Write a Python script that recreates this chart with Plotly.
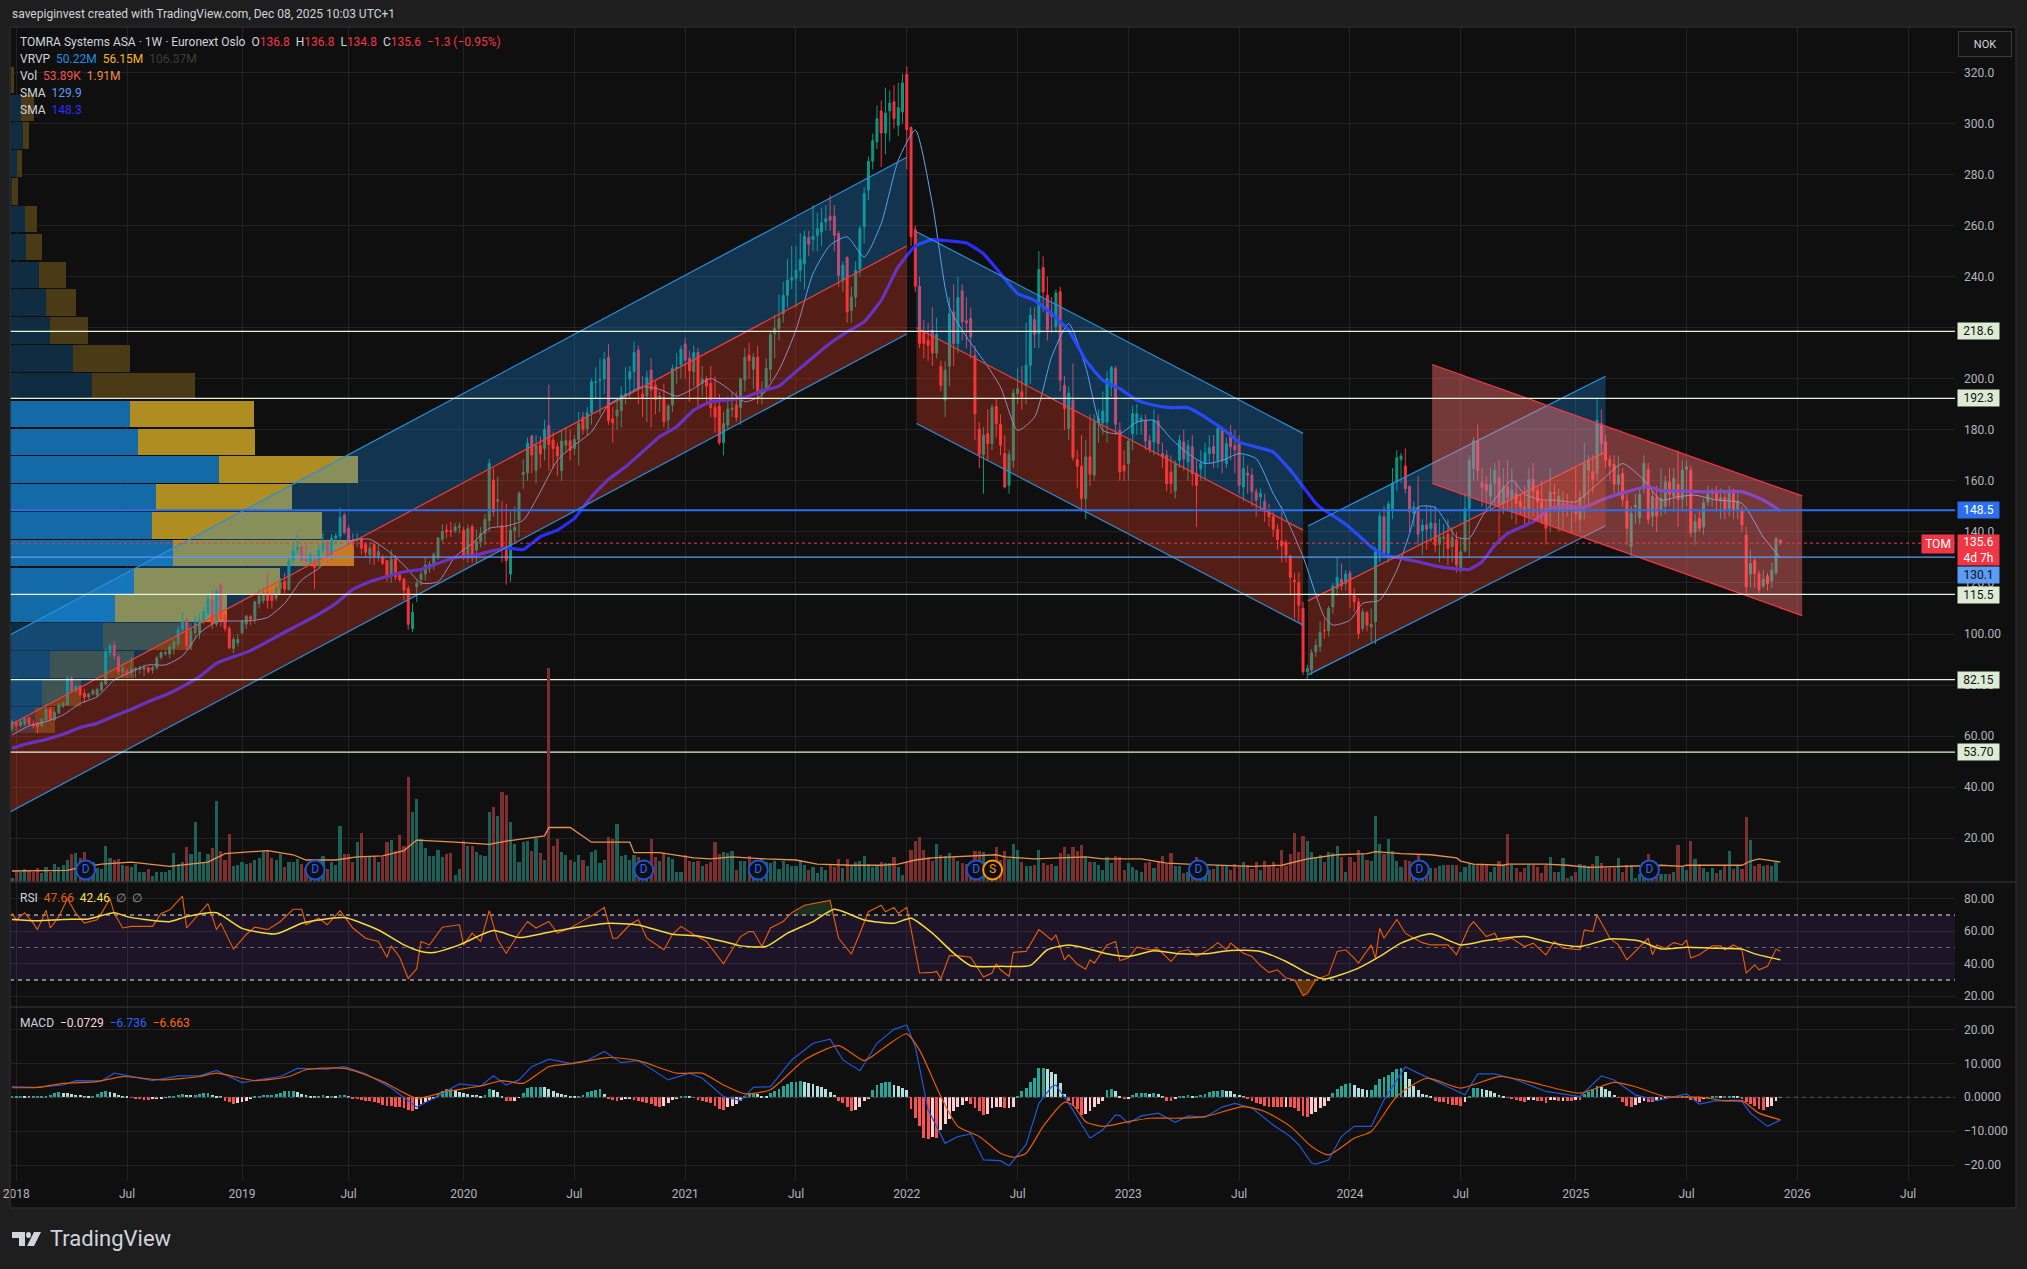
import pandas as pd
import plotly.graph_objects as go

# ---------- weekly candles ----------
opens = [
62.9,65.4,64.3,64.7,67.2,64.7,65,64,66.3,70.5,
66.6,69.2,71.8,72.2,82.6,77.8,79.6,76.8,75.4,76.5,
76.1,78,80.4,92.7,95.7,91.1,85.2,85.5,84.9,85.9,
86.2,86.2,86.9,85.9,86.8,90.9,92.4,92.2,94.4,96.1,
101.8,105.5,95.4,100.5,100.5,105.5,108.1,113.3,103.9,119.2,
107.4,102.2,94.4,96.6,100.5,103.9,106.8,105.8,112,113.1,
116.6,115.9,114,117.8,120.6,117.5,129,132.9,134.2,129.3,
128,129,127,132.9,135.8,130.9,137.5,138.4,146.6,141.4,
136.8,136.6,137.1,135.1,131,135.1,130.6,130,128.7,122.7,
129.3,123.1,121.5,117.8,102.2,118.5,121.4,123.5,125.7,126.6,
130,137.1,140.7,140.5,140.5,141.8,140.7,130.3,142,132.9,
136.2,139.4,144.4,160.3,152,142.4,134.2,123.5,140.5,144.6,
162.5,163.2,177.6,164,174,172.7,181.7,176,173.4,164,
174,175.7,172.7,176.2,184.9,180.5,186.7,198.6,199.2,199.9,
208.4,184.2,185.4,187.5,193.6,199.9,202.8,211.2,194,193.2,
203.4,197.5,192.7,192.7,183.8,189.7,204,205.4,213.6,208,
202.8,210.3,198.2,200,198.2,188.8,189.3,175,181.9,188,
189.7,188.8,199.5,209.3,203.7,208.4,194,196.2,203.7,
217.7,219.7,225.5,232.7,238.6,239.2,242.5,245.1,255.3,254.5,
256.2,257.5,261.4,263.7,263.7,256.9,238.6,247.5,226.8,232,
243,259.5,273.9,285.3,292.8,304.9,296.3,304.9,308.5,299.3,
304.5,319.3,
298.4,258.4,236.2,218.3,215.1,219,210.1,204.9,191.6,204.9,
226.2,213.8,234.4,222.7,223.6,209.2,180.2,170.4,178.5,174.6,
189.2,182.2,170.7,158.3,168,194.2,194.9,197.4,205.3,223.2,
217.7,243.6,232.7,225.8,220.3,234.1,197.4,180.5,191.6,168.3,
165.7,153,169.4,162.3,183,182.7,183.1,196.8,204,179.8,
166,166.8,178.5,183.1,183.7,183.7,175.8,175.2,183.5,170.7,
170,163.5,156,168,175.2,167.4,173.3,162.8,164.8,166.8,
170.7,173.5,168,180.5,166.8,178.8,173.8,174.6,157.6,163,
162.2,155.7,153.7,
152,148,146,141,136.5,135.9,130.6,121,120.2,110,
85.2,86,93,95,101.5,101.3,110.6,117.8,121.4,119.8,
124,115.2,112.6,102.2,108.3,102.8,104.8,130.9,145.9,131.6,
149.2,159.6,168.4,165.8,157.9,147.2,149.6,140.4,142.7,141.4,
143.3,135.2,137.5,139.1,134.2,137,124.8,132.6,149.2,164.9,
175.7,159.4,158.7,154,159,161.3,151.2,157.7,153.1,155,
151.8,149.6,149.2,160.6,156.1,151.8,149.2,148.8,155.5,148.5,
147.9,151.2,148.8,149.6,145,153.5,164.2,163.6,163,182.5,
175.3,168.4,166.4,158.7,162.9,152.1,134.4,149.8,145.5,157.7,
164.5,146,153.5,148.8,150.1,159.6,154,158.7,152.9,164.5,
164.2,140,145.3,142,151.8,155,156.1,152.5,153.5,149.2,
155.1,148.8,148.3,138.7,123.5,128.7,123.7,118.8,122.7,120.8,
124,136.8]

closes = [
65.7,64,65.7,67,64.7,64,63.7,66.6,70.5,66.6,
69.2,72.2,72.8,82.6,77.8,79.4,76.1,75.2,76.5,77.8,
78.3,80.9,93.1,95.4,91.4,85.2,86.8,84.3,86.2,86.5,
86.7,86.8,85.4,86.8,90.6,92.7,92.7,95,97,101.6,
104.8,95.4,101.2,104.2,105.2,108.7,113.8,103.9,116.8,106,
102.2,94.6,97.9,97.9,104.8,107,105.8,112.7,114.9,116.2,
113.1,113.1,117.9,120.1,117.5,128.7,132.6,134,129,128.6,
131,126.1,132.9,135.3,130.3,137.5,138.4,145.7,139.8,136.8,
136.2,137.1,133.6,132,133.6,130.6,132.3,127.7,122.7,129.3,
122.5,121.4,117.2,103.8,108.5,119.9,123.5,127,127.3,131.2,
137.7,140.2,140.1,140.1,142,142.3,130.6,141.3,130,136.2,
139.4,144.9,166.8,147.9,152.6,134.2,128.7,140.7,141.8,155.1,
163.3,174.7,170.1,174,170.5,180.2,174.3,172.7,169.7,175.6,
175.7,172,176.2,182.5,180.2,186.7,198.8,198.8,199.5,207.6,
183.6,182.8,187.7,193.6,194,202.8,210.3,196.2,192.3,200.5,
195.6,191.9,193.2,183.2,189.3,204,204.5,211.6,207.3,203.1,
210.3,197.3,199.8,197.1,188.8,185.1,175,182.5,188.1,188.4,
184.9,199.9,208.4,207.1,208.4,194,195.6,204,217.3,
219.7,223.6,232.7,238.6,239.6,242.5,246.7,255.8,252.7,255.8,
258.8,261,262.7,262.1,256.2,240.5,244.5,226.2,232,242.5,
258.8,272.5,285.2,293.2,301.9,296.3,304.1,308,301.9,306.2,
315.9,297.6,
255.6,236.2,213.8,213.8,213.1,210.1,217.4,197.4,203.3,225.5,
213.8,231.8,222.3,221.9,216.4,186.3,170.4,177.9,174.6,188.7,
182.4,174,157.6,170.4,194.4,196.1,192.9,205.3,224.9,217.4,
242.8,234,219.3,224.5,233.6,199.4,188.3,194.4,169.1,165.7,
153,169.4,162.6,183.1,184.4,187.4,200.1,204.4,182.2,163.5,
163.9,175.6,186.3,186.3,184.4,175.6,172.6,183.7,174.6,169.4,
158.9,158.9,166.8,175.9,168.7,173.9,162.8,158.3,166.8,171,
173,170.7,180.5,167.8,174.6,173.3,172.2,158.3,164.8,162.2,
155.7,152.4,155,
148,146,141,137,134.5,130.9,122.2,120.5,111.3,85.2,
86.5,92.6,95.6,100.6,101.3,110,118.8,122.2,118.8,123.5,
115.6,112.6,100.2,108.7,103.5,103.9,132.2,146.2,131.8,150.9,
159,169,169.7,157,147.9,149.8,139.1,142.7,141,143.6,
134.8,138.1,138,133.5,137.8,127,132.2,149.2,168.1,175.7,
164,157.4,156.1,158.7,164.2,151.2,157.7,153.5,156.4,151.2,
149.8,149.2,160.6,156,151.8,149.2,141.4,155.7,155.1,154,
151.2,148.8,150.5,147,153.5,166.8,167.9,160.6,183.8,174.6,
168.1,165.9,158.7,162.2,152.7,141.4,147.2,150.5,154.8,166.8,
145,154,146.2,153.1,159.6,154.8,160.9,152.7,164.2,165.5,
139.7,144,141.4,151.4,154.8,155.5,152.5,153.5,148.8,156.1,
148.8,152,142.7,118.5,127.6,123.7,117.4,121.4,119.8,125,
137.3,135.6]

highs = [
66.5,66,66.5,67.5,67.6,66,65.5,67,72.5,71.5,
70,73,73.5,83.5,83.5,80,80,78.5,77,78.5,
79,81.5,94.5,96.5,97.3,92,88,86.5,91,87,
87.5,88,87,87.5,91.5,93.2,93.5,96,98,103,
108.5,106.5,102.5,107,108,110.5,115,117.5,118,120,
108,103,99,100,105.5,107.5,107.5,113,117.5,118,
124,117,119,122,124,130,135.7,139,135,135,
132,131,135,139.5,137,139,139.5,149.5,147.5,142.5,
139.5,139.5,138,136,136,136,135,131,129,133,
131,124.5,122,119,112,121,125,130,128.5,132,
138,143,143,144,143.5,143.7,142,143,143,141,
142,147,168.5,165,161.5,152,151,148,150,156,
168.5,177,178,178,177.5,184,197.7,179,175,180,
181,180,178,187,187,189,200,204.5,208,210.5,
213.5,189,192,197,204.5,205,214.5,213,201,203,
208,199,195,198,190,205.5,210,213,216,211,
213,212,205,201,205,201,194,187,193,195,
195,200.5,212,214,210,213,199,208,219,
225,233,238,247,252,252,257,258,258,268,
265,267,268,272,268,258,246,248,236,246,
260,275,287,296,307,309,314,313,315,316,
319.5,322.4,
299,260,240,223,222,228,224,207,207,232,
237,240,237,232,228,213,183,181,188,190,
192,186,178,172,196,204,205,222,228,228,
250,248,240,232,235,236,201,197,206,172,
178,176,186,186,188,195,203,205,205,183,
172,176,189.5,190,186,186,178,188,186,175,
172,170,168,178,180,176,178,168,172,175,
178,178,181,181,177,182,180,178,170,166,
165,157,157,
155,151,148,143,150,137,131,124,124,112.6,
88,94,98,105,106,111,120,130,127.7,125,
125,118,114,110,109,110,134,148,150,152,
165,172,171,172.7,158,152,162,145,150,150,
150,145,143,145,142,140,137,155,170,177,
182,165,162,165,167,168,165,168,165,160,
155,158,165,167,158,160,152,165,159,157,
156,155,152,165,156,175,170,170,192,188,
178,170,170,170,165,155,150,155,157,170,
167,156,158,165,162,165,165,172,168,168,
166,147,148,153,158,157,158,157,156,158,
157,156,150,142,133,130,125,125,124,128,
138,136.8]

lows = [
62,62,63.5,64,64.3,63,61,63.5,65.5,66,
66,68.5,71,71.8,77,77,75.5,73,74.5,76,
75.5,77.5,80,91,90,84,83,83,83.5,83,
84.5,83.5,84.5,84.5,86,90,91.5,90.5,92,95,
100,94,94,98,98,104,107,102,103,103,
101,94,92.5,95,100,102,103.5,104,110,112,
110,110,113,116,116,117,127,131,128,127,
127,117.5,126,131,128,129,135,137,139,135,
134,134,131,130,127.5,127,128.5,127,120.5,120,
121,120.5,113.2,101.7,100.8,112.5,119,121,124,125,
129,136,137.5,138,139.5,139.5,129,128,128,127.5,
134,135,140,146,142,128,119.3,120.5,136,138,
157,160,163,159,165,168,164,165,162,160,
171,168,170,166,178,178,182,192,186,194,
182,175,180,181,190,192,195,190,185,183,
181,186,187,181,180,187,198,200,200,191,
197,189,193,190,185,179,174,170,180,185,
183,182,195,200,196,190,190,195,199,
208,215,222,228,235,228,238,235,248,250,
250,252,258,258,250,236,234,222,222,228,
240,253,270,282,290,283,288,293,298,295,
300,282,
252,234,212,208,207,205,208,195,185,197,
205,210,215,212,208,176,165,155,168,172,
177,170,157,155,165,190,188,190,198,212,
212,226,215,218,218,195,180,176,168,157,
148,145,158,160,175,178,175,193,178,160,
160,160,172,178,178,172,171,170,170,165,
156,155,153,165,164,160,158,142,160,160,
167,165,165,163,165,168,163,155,152,155,
150,146,148,
144,142,138,133,128,128,115,106,105,84,
82.2,84,91,93,98,99,108,115,117,117,
110,109,98,101,101,97,96,128,130,128,
145,156,159,155,140,142,135,131,133,136,
132,128,130,127,128,124,124,132,130,160,
160,150,148,148,150,137,147,148,145,143,
147,142,143,146,145,143,135,140,148,140,
141,146,140,144,140,145,150,155,160,170,
165,160,155,155,150,135,130,143,143,155,
143,142,140,146,147,150,148,142,148,150,
138,135,140,139,150,150,148,145,145,146,
145,145,140,116,118,118,116,118,117,118,
123,134.8]

volumes_m = [
.4,1.05,.95,1.2,1.05,1,1.3,.85,1.4,1,
1.7,1.4,1.65,2.1,2.7,2.8,2.3,2.9,1.6,1.9,
1.3,1.2,3.4,2.3,2.1,2.2,1.6,1.5,1.4,1.7,
.95,1,1.2,.6,1,.95,1,1.1,2.8,1.7,
1.9,3.3,2.7,5.7,2.9,1.9,2.7,3.2,7.7,3,
2.1,4.6,1.5,1.6,1.9,1.7,1.8,2.1,2.3,3,
3,2.3,2.1,2.7,1.4,1.9,1.9,2.2,1.7,1.3,
1.7,1.5,1.4,2.5,1.2,1.9,1.6,5.3,2.7,2.7,
1.9,3.8,4.7,2.4,2.4,2.5,1.9,2.4,3.8,4,3,
4.5,3.4,10,6.7,7.9,4.1,3.2,2.5,2.5,3.1,
2.4,2.7,2.8,.7,1.2,3.9,3.4,3.4,2.9,2.6,
2.5,6.7,7.2,6.3,8.6,8.3,5.7,3.6,1.9,3.8,
3.9,3,4.2,2.8,2.1,20.4,3.4,4.1,2.9,2.6,
2.1,1.9,2.6,2.1,1.5,2.9,3.1,1.8,2.1,4.3,
4.1,5.5,2.5,2.6,2.1,2.6,2.4,1.8,1.8,4.1,
2.4,2,2.8,2.4,2.2,1,1,2.6,2,1.9,
2,1.5,1.7,1.9,3.8,2.7,2.9,2.8,3,1.1,
2,2,2.5,1.8,1.6,2.3,1.9,1.8,2,1.2,
2,1.7,1.5,1.5,2,1.6,1.1,1.4,.9,1.4,
1.1,1.6,1.4,2.2,1.3,2.2,1.5,1.9,2,2.5,
1.7,1.4,1.5,1.9,1.8,1.8,2.4,1.4,
.7,1.8,3.1,3.9,4.3,3.1,2.4,2,3.6,2.6,
2.5,2.8,2.4,2,1.8,1.7,1.5,3,3,2.9,
1.8,1.9,3.3,2.1,3,2.2,3.6,3.1,1.9,1.5,
1.5,1.6,3.1,1.8,1.6,1.7,1.5,2.8,3.3,2.7,
3.3,3,3.5,2.4,1.9,1.9,1.6,1.1,2.4,1.8,
2.5,2.4,1.1,1.8,1.4,1.1,1,1.8,1.9,1.3,
2,2.5,1.7,2.8,1.5,1.5,.9,1,1.8,2.4,
1.8,1.1,1.1,1.2,1.6,1.6,1.6,1.1,1.7,1.5,
1.9,1.6,1.2,1.9,1.1,2,1.5,1.9,1.3,3.1,
1.5,2.7,4.7,2.9,4.4,3.9,2.9,2.3,2.6,1.9,
2.9,2.8,3.4,2.4,1,2.4,1.9,3.1,2.7,2.1,
2,6.3,
3.6,2.7,4.1,3,2,1.4,2.1,2,1,2.6,
1.3,1.3,1.3,1.3,1.5,1.6,1.6,1.6,1.6,1,
1.4,1.8,1.7,1.6,1.6,1.6,1,1.4,2,1.6,
4.6,1.6,1.3,1,1.3,1.6,1.6,1.4,.9,1.6,
2.4,1,1,2.3,.4,.6,1,1.7,1.6,1.5,
1.7,2.5,1.8,1.3,1.3,1.3,2.3,1,1.6,1.6,
.4,.8,1.6,2.7,1.8,.6,.8,.8,.8,1,
3.5,1.4,1.1,3.9,2.2,1.7,1.3,1,1.3,.9,
1.1,1.6,3,1.2,1.6,1.2,6.2,4,1.5,1.7,
1.5,1.6,1.5,1.9,.054]

vol_ma_idx = [0,13,16,21,28,37,46,50,60,66,69,76,81,87,92,95,104,112,116,125,126,131,136,145,146,152,160,164,169,177,184,189,197,204,208,212,216,222,231,233,240,252,256,265,271,276,291,298,304,311,318,320,326,333,339,340,343,350,351,360,365,370,381,387,392,393,402,406,408,410,415]
vol_ma_val = [1.05,1.1,1.4,1.7,1.9,1.5,1.9,2.7,3,2.6,2.1,2.1,2.4,2.5,3,4,3.8,3.6,3.9,4.4,5.2,5.2,3.8,3.8,2.8,2.8,2.3,2.2,2.4,2.2,2.1,1.7,1.6,1.6,1.7,2.1,2.3,2.4,2.6,2.4,2.2,2.4,2.2,2.2,1.8,1.7,1.5,1.6,2.2,2.6,2.7,2.9,2.7,2.6,2.3,2,1.7,1.6,1.7,1.7,1.6,1.4,1.5,1.6,1.5,1.6,1.6,1.6,2,2.2,1.91]

fast_sma_idx = list(range(0, 297, 4)) + [298,303,308,310,314,317,321,325,328,330,334,339,342,345,349,352,355,359,362,367,370,374,378,383,387,391,395,400,406,411,415]
fast_sma_val = [60.4,64,65.7,68.3,72.8,75.4,82,85.2,87.9,87.9,91.4,100.3,104.8,105.1,105.2,106.5,112,121.2,125.7,132.3,136.8,137.1,132.9,127,120,120.5,130.3,135.5,141.4,
142.3,144.6,155.7,168.1,174,179.2,189.7,193.6,196.9,195.8,193.2,196.2,200.1,196.2,191,193.6,203.4,219.1,
241.2,252.3,255.6,247.7,260.8,285.6,297.4,268.6,228.1,216.4,207.2,196.8,179.8,185,208.6,221.6,204.6,179.8,178.5,183,183.7,176.6,170.7,166.8,168,170.7,168.7,155,
149.2,130.3,106.7,103.5,105.4,112,113.3,125,139.4,149.8,149.6,138,137.5,145.9,155,160.3,154.8,152.5,152.5,151.8,155.7,161.6,166.8,160.3,152.5,153.8,154.4,152.5,151.2,138,129.9]

slow_sma_idx = list(range(0, 301, 4)) + [303,306,308,311,313,316,319,322,325,330,334,338,342,345,348,351,357,361,365,369,373,378,384,387,392,398,406,411,415]
slow_sma_val = [55.2,57.2,58.7,60.7,63.4,65,67.9,70.5,73.5,76.1,79.4,83.3,88.5,91.1,93.5,97,100.7,104.2,107.8,112,117.5,120.5,122.5,124.4,125.3,127.7,130,130.6,132.3,133.8,
133.1,138.1,140.7,145.3,153.8,160.6,165.5,171.4,177.3,181.2,187.7,191,191.7,192.7,195.3,197.1,202.8,208.4,213.9,218.4,222.3,
230.7,243.8,252,254.5,254,253.2,249,241.2,233.4,230.7,225.5,219,207.2,199.4,196.1,191.6,189.6,188.7,188.7,185,180.5,175.2,173.3,171.3,164.2,
157.7,151.2,148.5,145.3,143,138.7,134.2,130.9,130,128.3,126.7,125.7,125.3,128.3,134.8,139.4,144,149.2,150.1,149.6,152.5,155.3,157.7,156.1,156.1,155.7,155.8,152.5,148.3]

rsi_idx = [0,1,3,5,6,8,9,11,13,15,17,20,21,23,24,26,28,33,35,37,40,41,46,48,49,52,55,57,60,63,66,68,69,72,74,77,80,83,86,88,89,91,93,95,96,98,101,105,106,108,110,112,114,116,119,121,123,126,128,131,133,137,139,141,142,145,147,149,153,155,157,160,163,167,169,171,173,174,176,178,181,183,186,192,194,197,199,201,204,205,207,208,210,212,213,216,217,218,220,222,225,228,230,231,232,
234,235,238,240,241,244,245,247,248,250,252,253,254,257,259,260,262,264,267,269,272,274,276,278,281,283,285,286,289,291,293,295,297,299,301,303,304,306,309,311,313,315,316,319,320,321,322,325,327,329,331,333,337,339,342,343,346,348,349,352,355,357,360,362,364,368,369,371,372,375,377,379,382,384,385,386,388,390,392,393,394,396,399,401,402,404,406,407,409,410,412,414,415]
rsi_val = [71,67,71.4,65,61,73,62,69,80,71,65,67,71,80,71,62,63,63,71,73,81.6,62,77,61,65,49,58,62.5,61,66,73.5,73.5,64,68,64,72.7,62,55.7,53.7,44,51,44,31,37,53.7,51.6,62.5,64,51.6,58.8,53.7,72.7,54.7,46.5,58.8,66,62,66,58.8,62,65,71,74.7,55.7,55.7,64,67,55.7,48.6,58,63,58,53.7,40,48.6,56.7,59.8,59.8,50.6,62,66,71.4,76,79,55.7,46,58.8,72,76,72,74.7,71,74.7,46.5,34.3,34.7,35.3,30.8,45,45,44,31.8,34.3,40,36.3,
32.2,47,47.6,57,61,54.7,57.8,42.4,45.5,39.8,36.7,42.4,40.4,51.6,53.7,42,43.5,50.2,48.6,49,41.4,47.6,48.6,44.5,49,53,48.6,52.7,46.5,44.5,38.8,34.7,36.3,31.2,30.2,20.4,21.6,30.2,33.3,47.6,48.6,43.5,40.4,51.6,43.5,61.8,55.7,67.3,58.8,55.7,53,51.6,51.6,45.5,62.9,65.9,56.7,58.8,53.7,55.7,50.6,52.7,45.5,53.7,49.6,48.6,60.8,59.8,70,55.7,51.6,42.4,50.6,55.7,45.5,51.6,49.6,53,51.6,54.7,43.5,45.5,51,51,48.6,51.6,48.6,34.3,39.4,36.3,38.4,49,47.66]

rsi_sig_idx = [0,6,12,18,24,27,31,37,41,48,54,62,68,72,78,86,92,96,99,105,113,119,126,134,140,147,155,161,167,171,177,182,188,193,200,207,211,216,221,225,232,239,243,248,252,257,262,268,274,280,286,293,299,304,308,316,321,326,333,340,346,355,361,368,375,382,387,393,399,406,409,415]
rsi_sig_val = [67.3,66.5,67.3,67.6,71.4,69,67.3,65.9,69,71.4,61.8,58.4,64.9,66.9,68.4,60.8,51.6,47.6,46.9,51.6,60.4,56.1,59.4,62.9,64.9,63.9,58.2,57.1,53.7,51,50.6,58.8,65.9,73.5,66.9,64.9,68,58.8,46.5,38.8,38.4,39,48.6,51.6,49.6,46.1,44.5,48,46.1,46.1,48.2,47.6,41.4,34.3,30.6,37.3,44.5,52.7,58.4,51.6,54.3,56.7,53,50.6,55.3,54,49.1,50.2,49.6,49,46.1,42.46]

macd_idx = [0,6,12,15,21,24,29,33,39,44,48,54,60,63,67,74,78,83,89,95,99,105,110,113,116,119,122,126,131,135,139,143,147,154,159,162,167,171,174,178,183,188,192,195,199,203,207,210,212,215,219,222,225,228,232,
234,238,241,244,245,248,252,253,256,259,260,262,265,269,273,276,280,284,287,291,296,300,302,305,306,309,312,315,319,322,325,327,330,337,341,344,348,352,356,360,368,373,376,381,386,393,396,400,406,408,412,415]
macd_val = [3.1,2.9,3.6,4.9,4.8,7.1,5.9,4.9,6.3,6.3,7.9,4.3,5.6,6.1,8.5,8.3,9,6.9,2.7,-2.9,-.3,3.9,3.3,6.3,3.6,5.1,9,11.2,10,10.8,13.5,10.2,10.8,5.1,7.1,5.6,.2,-1,2.9,3.1,11,15.9,17.1,11,7.8,15.9,20,21.3,14.9,-3.7,-13.6,-11.6,-10.8,-18.5,-18.7,
-20.2,-14,-1.8,3.1,3.6,-1.8,-10.1,-12.1,-9.6,-5.2,-5.4,-7.7,-5.5,-4.7,-7.4,-5.5,-5.9,-2.9,-1.8,-3.2,-8.2,-11.6,-14,-19.4,-19.7,-18.5,-11.6,-8.6,-8.6,-.8,5.1,9,7.1,3.1,.7,6.9,6.9,5.6,3.6,1.7,.2,6.3,5.1,.7,-1,1,-2,-1,-1.3,-4.7,-8.6,-6.74]

macd_sig_idx = [0,6,12,20,26,35,44,48,57,65,69,78,87,95,102,110,115,120,126,132,140,147,156,162,167,172,178,186,194,200,205,210,213,218,222,227,232,
235,238,242,247,249,252,256,262,267,273,280,289,294,300,305,309,315,319,325,332,340,349,356,368,376,381,388,396,402,406,410,415]
macd_sig_val = [2.8,2.9,4.1,4.6,6.1,5.1,6.1,7.1,4.9,6.1,8.1,8.5,4.6,-.3,1.7,3.3,4.9,4.1,9,10,11.7,10.8,7.1,7.1,3.6,1,2.2,11,15.2,10.8,14.9,18.7,13.9,.2,-8.6,-11.6,-16.5,
-17.7,-16.5,-8.6,-1.5,-2.3,-7.2,-8.6,-7.2,-6.2,-6.2,-5.7,-2.8,-4.2,-8.6,-14.5,-17,-12.1,-10.1,.2,5.6,2.7,6.1,4.6,1.2,4.4,3.1,.2,0,-1,-1,-4.7,-6.66]

macd_hist = [
.4,.4,.4,.2,.1,.2,.3,.5,.5,.7,1.1,1.4,1.3,1.2,1,.8,.6,.5,.4,.5,.9,1.4,1.7,1.6,1.2,.8,.4,.1,-.1,-.3,-.6,-.7,-.8,-.6,-.5,-.4,-.2,.2,.5,.8,1,.8,.6,.7,.9,1.1,1.2,.8,.4,.2,
-1,-1.5,-2,-1.8,-1.3,-1,-.6,
.2,.5,.7,.7,.8,.9,1.2,1.7,1.8,1.8,1.4,1,.8,.5,
.3,.5,.6,.4,.5,.4,.6,.8,.4,
-.4,-.6,-.8,-1,-1.2,-1.5,-1.8,-2.2,-2.5,-2.7,-3,-3,-3.3,-3.9,-4,-3.5,
-2,-1.5,-.8,-.5,
1,1.8,2.5,2.5,2,1.5,
1.2,1,.8,.6,.5,.8,
2.3,2.1,1.5,.5,
-1,-1.1,-1,-.2,
1.2,2.7,3,3.1,3.1,3,2.4,1.8,1.3,1,.7,.5,.2,
.3,.6,1.5,1.8,2,2.3,1,
-.6,-.9,-1,-.8,-.4,-.3,-.7,-1,-1.3,-1.6,-2,-2.5,-2.8,-2.7,-1.8,-.9,-.3,
.1,.4,.2,-.1,
-.8,-1,-1.3,-1.8,-2.5,-3.6,-3.7,-3,-2.6,-2,-1,
.5,1,1.3,.9,.5,.2,
1.1,1.9,2.5,3.3,4,4.4,4.5,4.7,4.5,4.3,3.8,3.4,2.9,2.3,1.5,.6,
-1,-1.7,-3,-4,-3.9,-2.8,-1.2,-.5,
2,3.5,4.1,4.4,4.5,3.6,3.3,2.8,2.2,
-3.5,-6,-8.6,-12,-12.2,-11.8,-12,-9.6,-8,-6.5,-4.2,-3,-2.2,-1,-1.9,-3.3,-4,-5.2,-4.8,-3.3,-3,-2.8,
-3.3,-3.2,-3,
.3,1.7,2.8,4.6,5.8,8.5,8.5,8.4,7.4,6.8,4.3,1,
-1.2,-2.5,-3.5,-5.3,-5,-4.2,-3,-2,-1,
2,2.5,1.8,.4,-.5,-.3,
.7,1.1,1.3,1.3,1,1.2,.9,.3,-1,-1.2,-.6,.2,.5,.7,.4,.4,.6,1,1.5,1.8,1.8,2,1.8,1.7,1,.6,.3,
-.3,-1,-1.7,-2.1,-2.6,-2.8,-2.8,-3,-3,-2.8,-3,-3.2,-4.2,-5.5,-5.7,-5,-4.4,-3.3,-2.6,-1,
1.2,2.5,3.3,4,4.2,3.7,2.6,2.3,2,2,3.5,5.5,6,6.6,7.3,8.3,8.5,7.5,5.5,3.3,2,1,.6,.2,
-1,-1.4,-1.5,-2,-2.2,-2.3,-2.5,-1.5,
.3,2.8,2.8,2.4,2,1.8,1.2,.8,.3,
-.2,-.5,-.9,-1.2,-1.4,-.9,-.8,-1.1,-1.1,-1.6,-.9,-.7,-1.1,-1,-1,-1,-.9,-.9,
1,1.5,2.4,3.2,3,2.5,1.7,.6,
-.2,-1.5,-2.5,-2.8,-2.3,-1.7,-1,-1.4,-1.5,-1.2,-.8,-.1,
.1,.1,.2,.3,.3,
-.8,-1.2,-1.5,-.5,-.2,
.2,.2,.1,.2,.4,.2,.1,
-.3,-1.5,-2,-2.7,-3.4,-3.8,-2.8,-2.6,-1,-.07]

# volume profile (millions of shares per price row)
vrvp_price = [317.0,306.1,295.2,284.3,273.4,262.5,251.6,240.7,229.8,218.9,208.0,197.1,186.2,175.3,164.4,153.5,142.6,131.7,120.8,109.9,99.0,88.1,77.2,66.3]
vrvp_up = [.06,.36,.43,.23,.06,.49,.51,.93,1.16,1.29,2.03,2.63,3.85,4.10,6.71,4.68,4.55,5.23,3.98,3.37,2.99,1.29,1.03,.80]
vrvp_down = [.06,.41,.19,.16,.20,.39,.51,.87,.96,1.22,1.82,3.30,3.98,3.75,4.45,4.36,5.45,5.79,4.68,3.58,2.85,2.69,1.26,.64]
vrvp_value_area = [0]*12 + [1]*8 + [0]*4

# drawings: dates and prices of the channel corners
chan1_dates = ["2017-12-21 19:00", "2022-01-03"]
chan1_upper = [99.6, 286.8]
chan1_mid = [64.4, 252.0]
chan1_lower = [30.3, 217.5]
chan2_dates = ["2022-01-19", "2023-10-16"]
chan2_upper = [257.6, 178.6]
chan2_mid = [220.0, 140.7]
chan2_lower = [182.5, 103.5]
chan3_dates = ["2023-10-24", "2025-02-24"]
chan3_upper = [142.3, 201.0]
chan3_mid = [113.0, 171.4]
chan3_lower = [84.0, 142.4]
chan4_dates = ["2024-05-15", "2026-01-13"]
chan4_upper = [205.6, 154.1]
chan4_lower = [159.0, 107.2]
level_white = [218.6, 192.3, 115.5, 82.15, 53.70]
level_blue = 148.5
level_sma = 130.1
last_close = 135.6

dividend_dates = ["2018-04-25","2019-05-07","2020-10-28","2021-05-04","2022-04-27","2023-04-27","2024-04-24","2025-05-07"]
split_dates = ["2022-05-24"]

tick_dates = ["2018-01-01","2018-07-02","2019-01-07","2019-07-01","2020-01-06","2020-07-06","2021-01-04","2021-07-05","2022-01-03","2022-07-04","2023-01-02","2023-07-03","2024-01-01","2024-07-01","2025-01-06","2025-07-07","2026-01-05","2026-07-06"]
tick_labels = ["2018","Jul","2019","Jul","2020","Jul","2021","Jul","2022","Jul","2023","Jul","2024","Jul","2025","Jul","2026","Jul"]
price_ticks = [20,40,60,80,100,120,140,160,180,200,220,240,260,280,300,320]
price_labels = ["20.00","40.00","60.00","80.00","100.00","120.0","140.0","160.0","180.0","200.0","220.0","240.0","260.0","280.0","300.0","320.0"]
rsi_ticks = [20,40,60,80]
rsi_labels = ["20.00","40.00","60.00","80.00"]
macd_ticks = [-20,-10,0,10,20]
macd_labels = ["−20.00","−10.000","0.0000","10.000","20.00"]

assert len(opens) == len(closes) == len(highs) == len(lows) == len(volumes_m), (len(opens), len(closes), len(highs), len(lows), len(volumes_m))
assert len(fast_sma_idx) == len(fast_sma_val), (len(fast_sma_idx), len(fast_sma_val))
assert len(slow_sma_idx) == len(slow_sma_val), (len(slow_sma_idx), len(slow_sma_val))
assert len(rsi_idx) == len(rsi_val), (len(rsi_idx), len(rsi_val))
assert len(rsi_sig_idx) == len(rsi_sig_val), (len(rsi_sig_idx), len(rsi_sig_val))
assert len(macd_idx) == len(macd_val), (len(macd_idx), len(macd_val))
assert len(macd_sig_idx) == len(macd_sig_val), (len(macd_sig_idx), len(macd_sig_val))
assert len(vol_ma_idx) == len(vol_ma_val), (len(vol_ma_idx), len(vol_ma_val))

# ---------- layout constants ----------
W, H = 2027, 1269
PL, PR = 10, 1955
MAIN_T, MAIN_B, RSI_B, MACD_B = 27, 882, 1007, 1181
X_RANGE = ["2017-12-21 19:00", "2026-09-21 00:00"]
PAPER = "#1e1e1e"; PANE = "#0f0f0f"; GRID = "#222222"; AXIS_TXT = "#b2b5be"
UP = "#089981"; DOWN = "#f7323f"
FONT = "Roboto"

dates = pd.date_range(end="2025-12-08", periods=len(closes), freq="7D")
d = [t.strftime("%Y-%m-%d") for t in dates]
pick = lambda idx: [d[min(i, len(d) - 1)] for i in idx]
xd = lambda px: px / W
yd = lambda px: 1 - px / H

fig = go.Figure()

# volume profile on the linear base axis, under everything else
bright_up, dim_up, bright_dn, dim_dn = "#136aa6", "#0f2c40", "#b08d20", "#4a3a16"
fig.add_trace(go.Bar(orientation="h", y=vrvp_price, x=vrvp_up, width=10.4, xaxis="x", yaxis="y",
                     marker=dict(color=[bright_up if f else dim_up for f in vrvp_value_area], line_width=0)))
fig.add_trace(go.Bar(orientation="h", y=vrvp_price, x=vrvp_down, width=10.4, xaxis="x", yaxis="y",
                     marker=dict(color=[bright_dn if f else dim_dn for f in vrvp_value_area], line_width=0)))

# candles
fig.add_trace(go.Candlestick(x=d, open=opens, high=highs, low=lows, close=closes, xaxis="x2", yaxis="y",
                             increasing=dict(line=dict(color=UP, width=1), fillcolor=UP),
                             decreasing=dict(line=dict(color=DOWN, width=1), fillcolor=DOWN),
                             whiskerwidth=0))

# moving averages
fig.add_trace(go.Scatter(x=pick(fast_sma_idx), y=fast_sma_val, mode="lines", xaxis="x2", yaxis="y",
                         line=dict(color="#6aa3f5", width=1, shape="spline", smoothing=0.6)))
fig.add_trace(go.Scatter(x=pick(slow_sma_idx), y=slow_sma_val, mode="lines", xaxis="x2", yaxis="y",
                         line=dict(color="#2a2eff", width=3.2, shape="spline", smoothing=0.4)))

# channels
BLUE_EDGE, RED_EDGE = "#2a8fd8", "#e8403f"
BLUE_FILL, RED_FILL = "rgba(33,150,243,0.28)", "rgba(255,70,40,0.29)"

def band(dts, top, bottom, fill):
    fig.add_trace(go.Scatter(x=[dts[0], dts[1], dts[1], dts[0], dts[0]],
                             y=[top[0], top[1], bottom[1], bottom[0], top[0]],
                             mode="lines", fill="toself", fillcolor=fill, line=dict(width=0),
                             xaxis="x2", yaxis="y"))

def edge(dts, vals, color):
    fig.add_trace(go.Scatter(x=dts, y=vals, mode="lines", line=dict(color=color, width=1.2), xaxis="x2", yaxis="y"))

for dts, up_, mid_, low_ in [(chan1_dates, chan1_upper, chan1_mid, chan1_lower),
                             (chan2_dates, chan2_upper, chan2_mid, chan2_lower),
                             (chan3_dates, chan3_upper, chan3_mid, chan3_lower)]:
    band(dts, up_, mid_, BLUE_FILL)
    band(dts, mid_, low_, RED_FILL)
    edge(dts, up_, BLUE_EDGE)
    edge(dts, mid_, RED_EDGE)
    edge(dts, low_, BLUE_EDGE)
band(chan4_dates, chan4_upper, chan4_lower, "rgba(255,114,112,0.42)")
edge(chan4_dates, chan4_upper, "#f23645")
edge(chan4_dates, chan4_lower, "#f23645")

# horizontal levels
for lv in level_white:
    fig.add_trace(go.Scatter(x=X_RANGE, y=[lv, lv], mode="lines", line=dict(color="#e6f2dc", width=1.2), xaxis="x2", yaxis="y"))
fig.add_trace(go.Scatter(x=X_RANGE, y=[level_blue] * 2, mode="lines", line=dict(color="#2a6ff0", width=2.2), xaxis="x2", yaxis="y"))
fig.add_trace(go.Scatter(x=X_RANGE, y=[level_sma] * 2, mode="lines", line=dict(color="#5b9cf6", width=1.2), xaxis="x2", yaxis="y"))
fig.add_trace(go.Scatter(x=X_RANGE, y=[last_close] * 2, mode="lines", line=dict(color="#f23645", width=1, dash="dot"), xaxis="x2", yaxis="y"))

# volume
BAR_W = 5.2 * 86400000
vol_colors = ["#1e5f58" if c >= o else "#7d2e2e" for o, c in zip(opens, closes)]
fig.add_trace(go.Bar(x=d, y=volumes_m, width=BAR_W, marker=dict(color=vol_colors, line_width=0), xaxis="x2", yaxis="y4"))
fig.add_trace(go.Scatter(x=pick(vol_ma_idx), y=vol_ma_val, mode="lines", line=dict(color="#e89050", width=1.3), xaxis="x2", yaxis="y4"))
fig.add_trace(go.Scatter(x=dividend_dates, y=[1.15] * len(dividend_dates), mode="markers+text", text=["D"] * len(dividend_dates),
                         textfont=dict(color="#2962ff", size=12, family=FONT), textposition="middle center",
                         marker=dict(size=19, color=PANE, line=dict(color="#1f53d6", width=2)), xaxis="x2", yaxis="y4"))
fig.add_trace(go.Scatter(x=split_dates, y=[1.15], mode="markers+text", text=["S"],
                         textfont=dict(color="#ff9800", size=12, family=FONT), textposition="middle center",
                         marker=dict(size=19, color=PANE, line=dict(color="#ff9800", width=2)), xaxis="x2", yaxis="y4"))

# RSI pane
fig.add_trace(go.Scatter(x=[X_RANGE[0], X_RANGE[1], X_RANGE[1], X_RANGE[0]], y=[30, 30, 70, 70], mode="lines", fill="toself",
                         fillcolor="rgba(126,60,200,0.14)", line=dict(width=0), xaxis="x3", yaxis="y2"))
for lv, col in [(70, "#e8e8e8"), (50, "#6e6478"), (30, "#e8e8e8")]:
    fig.add_trace(go.Scatter(x=X_RANGE, y=[lv, lv], mode="lines", line=dict(color=col, width=1.1, dash="4px,4px"), xaxis="x3", yaxis="y2"))
ob_idx = [183, 186, 192, 193]
ob_val = [70, 76, 79, 70]
os_idx = [301, 303, 304, 306]
os_val = [30, 20.4, 21.6, 30]
fig.add_trace(go.Scatter(x=pick(ob_idx), y=ob_val, mode="lines", fill="toself", fillcolor="rgba(76,175,80,0.22)", line=dict(width=0), xaxis="x3", yaxis="y2"))
fig.add_trace(go.Scatter(x=pick(os_idx), y=os_val, mode="lines", fill="toself", fillcolor="rgba(255,120,0,0.35)", line=dict(width=0), xaxis="x3", yaxis="y2"))
fig.add_trace(go.Scatter(x=pick(rsi_idx), y=rsi_val, mode="lines", line=dict(color="#e85f00", width=1.1), xaxis="x3", yaxis="y2"))
fig.add_trace(go.Scatter(x=pick(rsi_sig_idx), y=rsi_sig_val, mode="lines", line=dict(color="#f2d93c", width=1.5, shape="spline", smoothing=0.6), xaxis="x3", yaxis="y2"))

# MACD pane
h_dates = d[-len(macd_hist):]
h_colors = []
prev = 0
for v in macd_hist:
    if v >= 0:
        h_colors.append("#26a69a" if v >= prev else "#b2dfdb")
    else:
        h_colors.append("#ff5252" if v <= prev else "#ffcdd2")
    prev = v
fig.add_trace(go.Scatter(x=X_RANGE, y=[0, 0], mode="lines", line=dict(color="#555555", width=1, dash="4px,4px"), xaxis="x4", yaxis="y3"))
fig.add_trace(go.Bar(x=h_dates, y=macd_hist, width=BAR_W * 0.9, marker=dict(color=h_colors, line_width=0), xaxis="x4", yaxis="y3"))
fig.add_trace(go.Scatter(x=pick(macd_idx), y=macd_val, mode="lines", line=dict(color="#2157d6", width=1.2), xaxis="x4", yaxis="y3"))
fig.add_trace(go.Scatter(x=pick(macd_sig_idx), y=macd_sig_val, mode="lines", line=dict(color="#e65c00", width=1.2, shape="spline", smoothing=0.6), xaxis="x4", yaxis="y3"))

# ---------- text ----------
ann = []
def label(text, px, py_, color="#d1d4dc", size=12, xanchor="left", **kw):
    ann.append(dict(text=text, x=xd(px), y=yd(py_), xref="paper", yref="paper", showarrow=False, xanchor=xanchor, yanchor="middle",
                    align="left", font=dict(color=color, size=size, family=FONT), **kw))

def sp(txt, col):
    return f'<span style="color:{col}">{txt}</span>'

RED = "#f23645"
label("savepiginvest created with TradingView.com, Dec 08, 2025 10:03 UTC+1", 10, 14, color="#d1d4dc", size=12)
label("TOMRA Systems ASA · 1W · Euronext Oslo  O" + sp("136.8", RED) + "  H" + sp("136.8", RED) + "  L" + sp("134.8", RED) + "  C" + sp("135.6", RED) + "  " + sp("−1.3 (−0.95%)", RED), 18, 42, size=12)
label("VRVP  " + sp("50.22M", "#1a8fe0") + "  " + sp("56.15M", "#f5b81d") + "  " + sp("106.37M", "#3d3d3d"), 18, 59)
label("Vol  " + sp("53.89K", "#ef5350") + "  " + sp("1.91M", "#f08a4b"), 18, 76)
label("SMA  " + sp("129.9", "#5b9cf6"), 18, 93)
label("SMA  " + sp("148.3", "#2a2eff"), 18, 110)
label("RSI  " + sp("47.66", "#e85f00") + "  " + sp("42.46", "#f5e050") + "  " + sp("∅", "#9a9a9a") + "  " + sp("∅", "#9a9a9a"), 18, 898)
label("MACD  " + sp("−0.0729", "#ffd6dc") + "  " + sp("−6.736", "#2962ff") + "  " + sp("−6.663", "#ff6d00"), 18, 1023)

def tag(text, py_, bg, fg="#111111", height=16):
    ann.append(dict(text=text, x=xd(1957), y=yd(py_), xref="paper", yref="paper", showarrow=False, xanchor="left", yanchor="middle",
                    align="center", width=41, height=height, bgcolor=bg, borderpad=0, font=dict(color=fg, size=12, family=FONT)))

GREEN_TAG = "#dcebd4"
price_to_px = lambda p: 634 + (100 - p) * 2.553
tag("218.6", price_to_px(218.6), GREEN_TAG)
tag("192.3", price_to_px(192.3), GREEN_TAG)
tag("148.5", price_to_px(148.5), "#2a6ff0", "#ffffff")
tag("135.6<br>4d 7h", 550, "#f23645", "#ffffff", height=30)
tag("130.1", 575, "#5b9cf6")
tag("115.5", 595, GREEN_TAG)
tag("82.15", price_to_px(82.15), GREEN_TAG)
tag("53.70", price_to_px(53.70), GREEN_TAG)
ann.append(dict(text="TOM", x=xd(1955), y=yd(544), xref="paper", yref="paper", showarrow=False, xanchor="right", yanchor="middle",
                width=30, height=16, bgcolor="#f23645", font=dict(color="#ffffff", size=12, family=FONT)))
ann.append(dict(text="NOK", x=xd(1985), y=yd(44), xref="paper", yref="paper", showarrow=False, xanchor="center", yanchor="middle",
                width=50, height=22, bgcolor="#131313", bordercolor="#3a3a3a", borderwidth=1, font=dict(color="#d1d4dc", size=11, family=FONT)))
label("TradingView", 48, 1238, color="#d1d4dc", size=22)

# ---------- frame and logo ----------
def px_rect(x0, y0, x1, y1, color, layer="below"):
    return dict(type="rect", xref="paper", yref="paper", x0=xd(x0), x1=xd(x1), y0=yd(y0), y1=yd(y1), fillcolor=color, line_width=0, layer=layer)

def px_line(x0, y0, x1, y1, color):
    return dict(type="line", xref="paper", yref="paper", x0=xd(x0), x1=xd(x1), y0=yd(y0), y1=yd(y1), line=dict(color=color, width=1.5), layer="above")

def px_path(points, color):
    path = "M " + " L ".join(f"{xd(x):.5f},{yd(y):.5f}" for x, y in points) + " Z"
    return dict(type="path", xref="paper", yref="paper", path=path, fillcolor=color, line_width=0, layer="above")

shapes = [
    px_rect(10, 27, 2016, 1208, PANE),
    px_line(10, MAIN_B, 2016, MAIN_B, "#2c2c2c"),
    px_line(10, RSI_B, 2016, RSI_B, "#2c2c2c"),
    px_line(10, 27, 2016, 27, "#2a2a2a"),
    px_line(10, 1208, 2016, 1208, "#2a2a2a"),
    px_line(10, 27, 10, 1208, "#2a2a2a"),
    px_line(2016, 27, 2016, 1208, "#2a2a2a"),
    px_path([(12, 1232), (25, 1232), (25, 1246), (19, 1246), (19, 1238), (12, 1238)], "#d1d4dc"),
    px_path([(34, 1232), (41, 1232), (34, 1246), (27, 1246)], "#d1d4dc"),
    dict(type="circle", xref="paper", yref="paper", x0=xd(26), x1=xd(31), y0=yd(1232), y1=yd(1238), fillcolor="#d1d4dc", line_width=0, layer="above"),
]

axis_font = dict(color=AXIS_TXT, size=12, family=FONT)
dom_x = [xd(PL), xd(PR)]
date_axis = dict(type="date", range=X_RANGE, domain=dom_x, tickmode="array", tickvals=tick_dates, ticktext=tick_labels, automargin=False,
                 showgrid=True, gridcolor=GRID, gridwidth=1, zeroline=False, showline=False, ticks="")

fig.update_layout(
    width=W, height=H, autosize=False, margin=dict(l=0, r=0, t=0, b=0, pad=0, autoexpand=False),
    paper_bgcolor=PAPER, plot_bgcolor="rgba(0,0,0,0)",
    showlegend=False, barmode="stack", boxgap=0.35, hovermode=False,
    annotations=ann, shapes=shapes,
    xaxis=dict(type="linear", range=[0, 62.35], domain=dom_x, anchor="y", visible=False, fixedrange=True),
    xaxis2=dict(date_axis, overlaying="x", anchor="y", showticklabels=False, rangeslider=dict(visible=False)),
    xaxis3=dict(date_axis, anchor="y2", showticklabels=False),
    xaxis4=dict(date_axis, anchor="y3", showticklabels=True, tickfont=axis_font, ticklabelstandoff=4),
    yaxis=dict(domain=[yd(MAIN_B), yd(MAIN_T)], range=[2.86, 337.8], anchor="x", side="right", tickmode="array", tickvals=price_ticks, automargin=False,
               ticktext=price_labels, tickfont=axis_font, showgrid=True, gridcolor=GRID, zeroline=False, ticks="", ticklabelstandoff=8),
    yaxis2=dict(domain=[yd(RSI_B), yd(MAIN_B)], range=[13.4, 90.3], anchor="x3", side="right", tickmode="array", tickvals=rsi_ticks, automargin=False,
                ticktext=rsi_labels, tickfont=axis_font, showgrid=True, gridcolor=GRID, zeroline=False, ticks="", ticklabelstandoff=8),
    yaxis3=dict(domain=[yd(MACD_B), yd(RSI_B)], range=[-24.7, 26.6], anchor="x4", side="right", tickmode="array", tickvals=macd_ticks, automargin=False,
                ticktext=macd_labels, tickfont=axis_font, showgrid=True, gridcolor=GRID, zeroline=False, ticks="", ticklabelstandoff=8),
    yaxis4=dict(domain=[yd(MAIN_B), yd(MAIN_T)], range=[0, 81.6], overlaying="y", anchor="x2", side="left", visible=False),
)

fig.write_html("out.html", config=dict(displayModeBar=False),
               post_script="document.body.style.margin='0';document.body.style.background='#1e1e1e';")
